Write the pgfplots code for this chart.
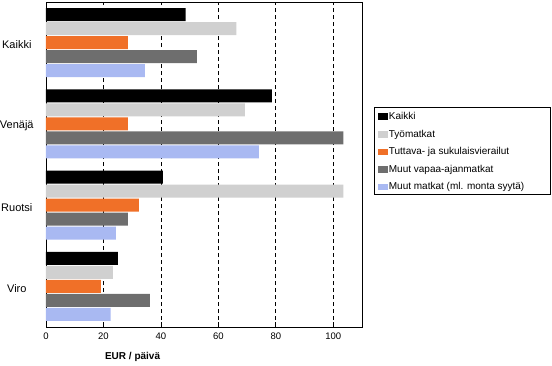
\documentclass[border=0pt]{standalone}
\usepackage{pgfplots}
\pgfplotsset{compat=1.18}
\usepackage{fontspec}
\setmainfont{Liberation Sans}
\definecolor{cLight}{RGB}{208,208,208}
\definecolor{cOrange}{RGB}{240,112,40}
\definecolor{cDark}{RGB}{110,110,110}
\definecolor{cBlue}{RGB}{169,185,242}
\begin{document}
\begin{tikzpicture}
\path[use as bounding box] (-46pt,-38pt) rectangle (506pt,327pt);
\begin{axis}[
  at={(0pt,0pt)}, anchor=south west,
  scale only axis, width=316pt, height=325pt,
  xbar, bar width=13pt,
  xmin=0, xmax=110, ymin=-0.5, ymax=3.5,
  xtick={0,20,40,60,80,100},
  ytick={0,1,2,3}, yticklabels={Viro,Ruotsi,Venäjä,Kaikki},
  xmajorgrids, major grid style={black, dash pattern=on 4pt off 3pt, line width=0.8pt},
  axis line style={black, line width=0.8pt},
  tick align=inside, xtick pos=bottom, major tick length=5pt,
  ytick style={draw=none},
  tick style={black, line width=0.8pt},
  /pgf/number format/assume math mode=true,
  xticklabel style={font=\fontsize{9.5}{11}\selectfont, yshift=-2pt},
  yticklabel style={font=\fontsize{11}{13}\selectfont, text width=34pt, align=center, inner sep=0pt, xshift=-12pt, yshift=-2pt},
  xlabel={EUR / päivä},
  xlabel style={font=\fontsize{10}{12}\selectfont\bfseries, at={(axis description cs:0.274,-0.0914)}, anchor=center},
  legend cell align=left,
  legend style={draw=none, fill=none, at={(axis description cs:1.0497,0.664)}, anchor=north west, inner sep=0pt,
    font=\fontsize{10}{12}\selectfont, row sep=6.6pt,
    nodes={inner sep=1pt, text height=7pt, text depth=2pt}},
  legend image code/.code={\fill[#1] (0pt,-3pt) rectangle (10pt,3.5pt);},
  clip=false,
]
\addplot[fill=black, draw=none, bar shift=28pt] coordinates {(48.6,3) (78.6,2) (40.7,1) (25.0,0)};
\addplot[fill=cLight, draw=none, bar shift=14pt] coordinates {(66.3,3) (69.2,2) (103.5,1) (23.3,0)};
\addplot[fill=cOrange, draw=none, bar shift=0pt] coordinates {(28.5,3) (28.5,2) (32.3,1) (19.1,0)};
\addplot[fill=cDark, draw=none, bar shift=-14pt] coordinates {(52.5,3) (103.5,2) (28.5,1) (36.2,0)};
\addplot[fill=cBlue, draw=none, bar shift=-28pt] coordinates {(34.4,3) (74.1,2) (24.3,1) (22.5,0)};
\legend{Kaikki,Työmatkat,Tuttava- ja sukulaisvierailut,Muut vapaa-ajanmatkat,Muut matkat (ml. monta syytä)}
\draw[black, line width=0.8pt] (rel axis cs:1.038,0.677) rectangle (rel axis cs:1.595,0.409);
\end{axis}
\end{tikzpicture}
\end{document}
